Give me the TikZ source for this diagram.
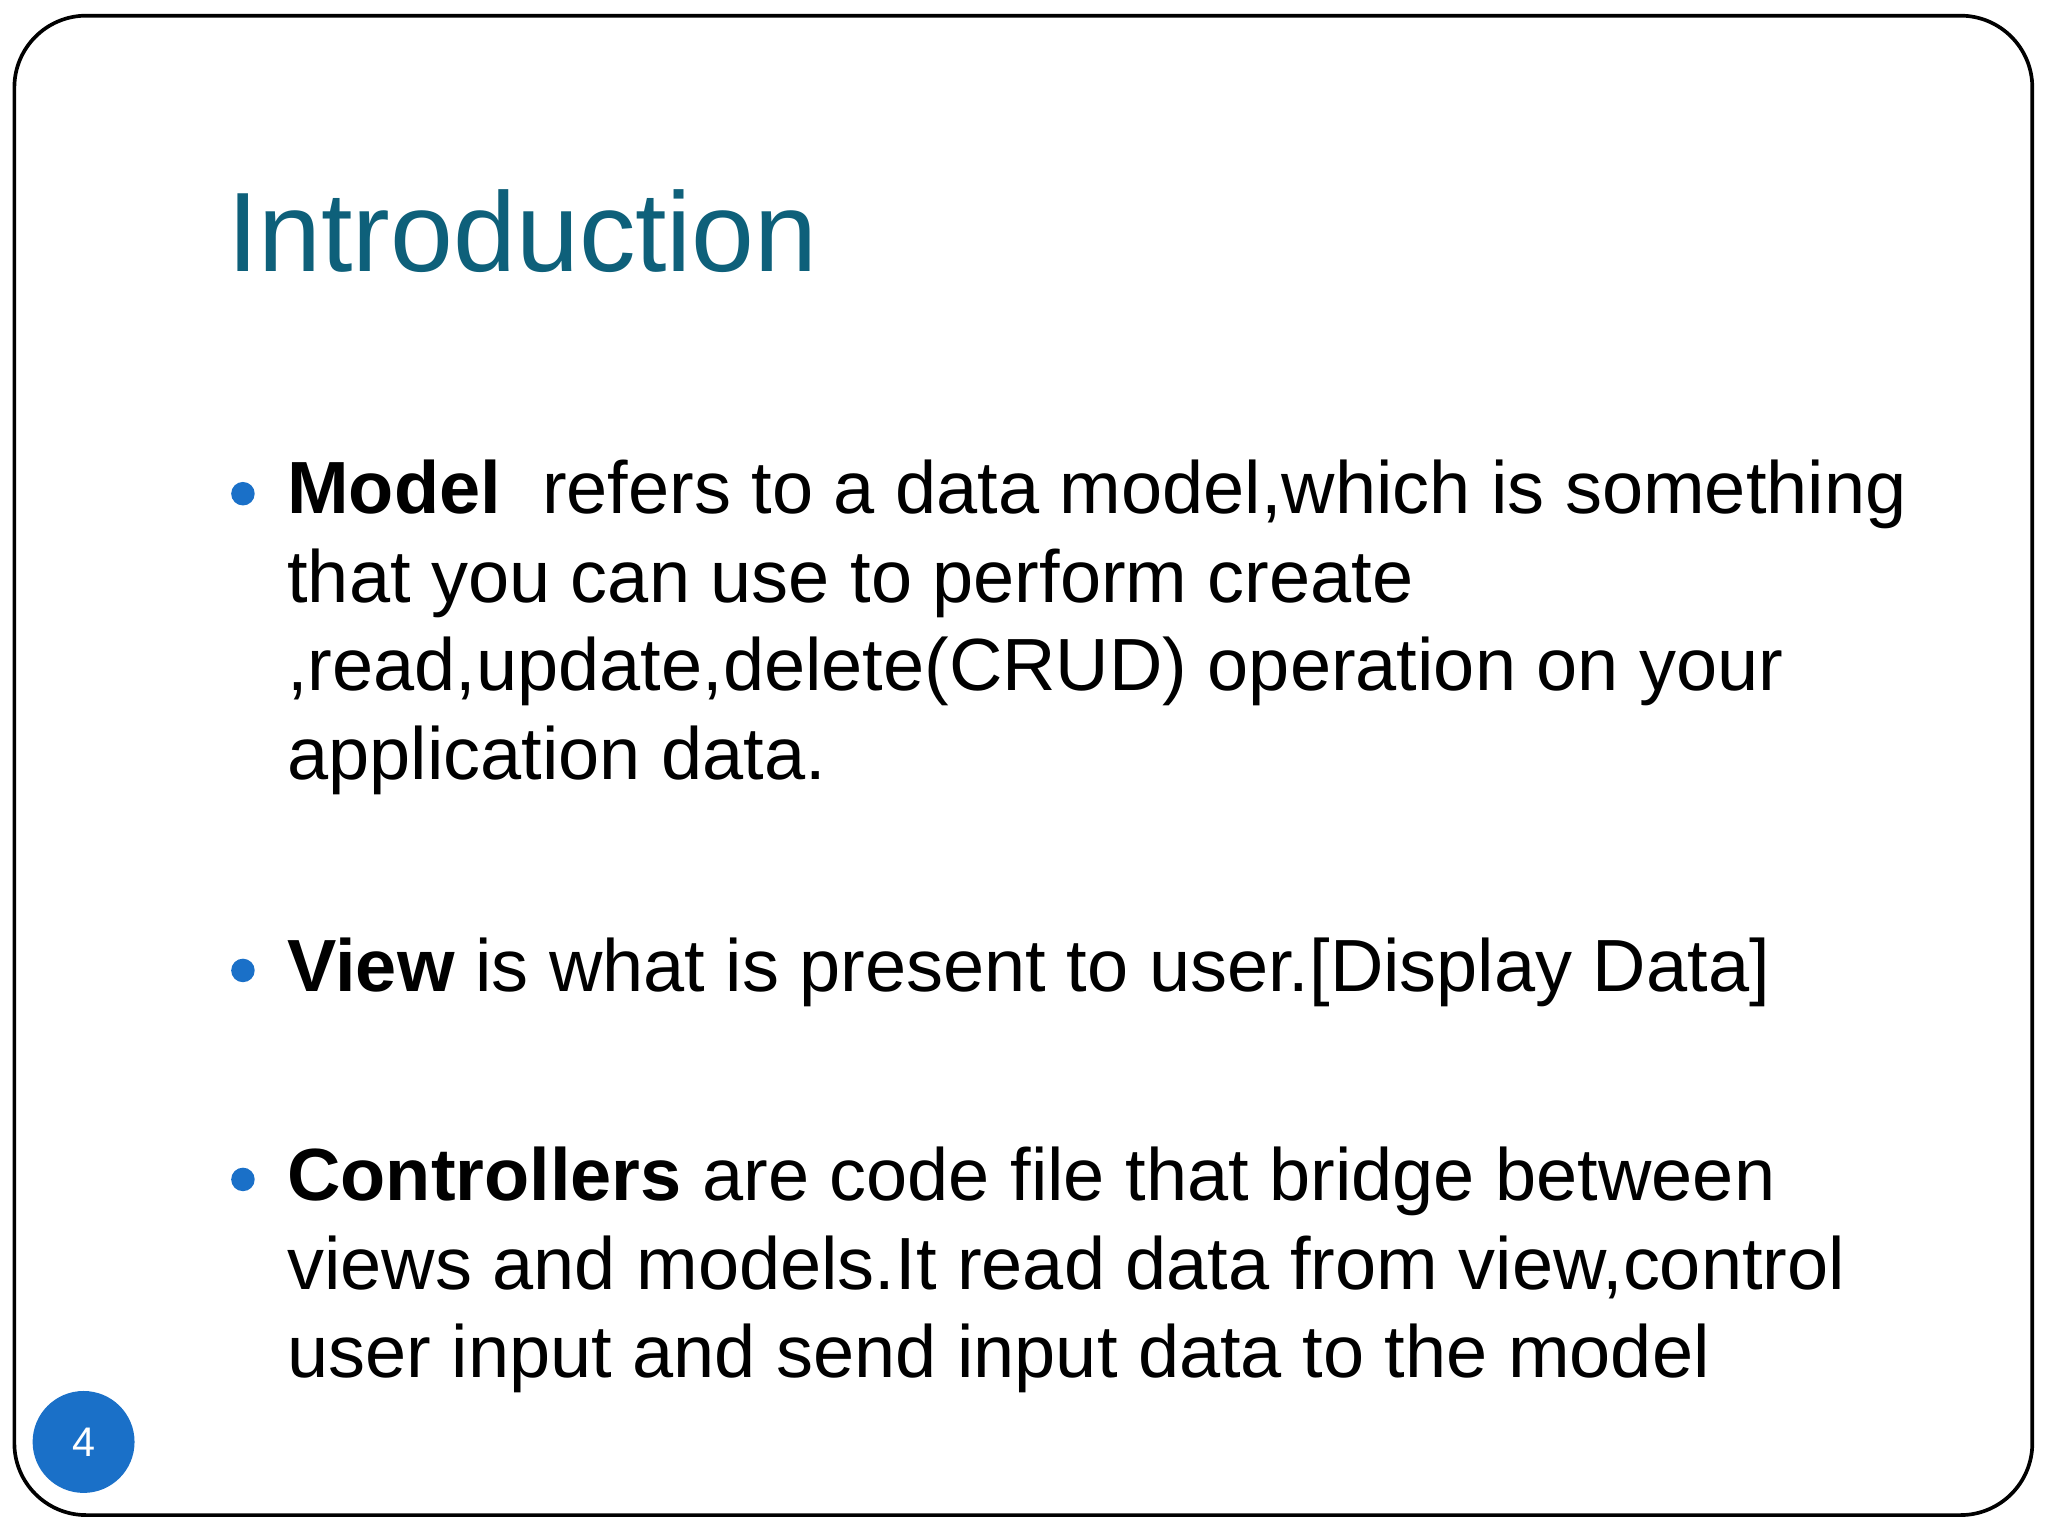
\documentclass[tikz,border=0pt]{standalone}
\usepackage{fontspec}
\setmainfont{Liberation Sans}
\definecolor{titleteal}{RGB}{14,96,122}
\definecolor{bulletblue}{RGB}{26,112,200}
\begin{document}
\begin{tikzpicture}[x=0.01cm,y=-0.01cm,
    every node/.style={inner sep=0pt, outer sep=0pt},
    bodyline/.style={anchor=base west, font=\fontsize{16.1}{20}\selectfont},
    bulletdot/.style={circle, fill=bulletblue, minimum size=0.18cm},
    ]
  \useasboundingbox (0,0) rectangle (1568,1176);
  \draw[line width=0.8pt, rounded corners=0.55cm] (11,12) rectangle (1556,1160);
  \node[anchor=base west, font=\fontsize{24.6}{28}\selectfont, text=titleteal] (title) at (174,208) {Introduction};
  % model
  \node[bulletdot] (b1) at (186,378) {};
  \node[bodyline] (m1) at (220,393) {\textbf{Model}\ \ refers to a data model,which is something};
  \node[bodyline] (m2) at (220,461) {that you can use to perform create};
  \node[bodyline] (m3) at (220,529) {,read,update,delete(CRUD) operation on your};
  \node[bodyline] (m4) at (220,597) {application data.};
  % view
  \node[bulletdot] (b2) at (186,743) {};
  \node[bodyline] (v1) at (220,759) {\textbf{View} is what is present to user.[Display Data]};
  % controllers
  \node[bulletdot] (b3) at (186,903) {};
  \node[bodyline] (c1) at (220,919) {\textbf{Controllers} are code file that bridge between};
  \node[bodyline] (c2) at (220,987) {views and models.It read data from view,control};
  \node[bodyline] (c3) at (220,1055) {user input and send input data to the model};
  % page number
  \node[circle, fill=bulletblue, minimum size=0.78cm, text=white, font=\fontsize{9}{10}\selectfont] (page) at (64,1104) {4};
\end{tikzpicture}
\end{document}
